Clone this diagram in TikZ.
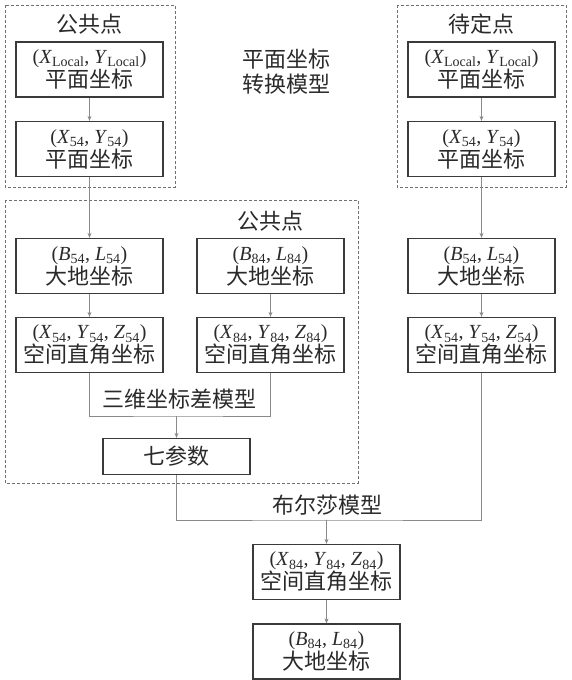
\documentclass[tikz,border=0pt]{standalone}
\usepackage{fontspec}
\setmainfont{Noto Sans CJK SC}
\newfontfamily\lat{Liberation Serif}
\usepackage{xcolor}
\usepackage{tikz}
\usetikzlibrary{arrows.meta}
\definecolor{boxline}{HTML}{3A3A3A}
\definecolor{linkgray}{HTML}{8A8A8A}
\definecolor{dashgray}{HTML}{707070}
\definecolor{txt}{HTML}{2A2A2A}
\newcommand\cv[2]{\textit{#1}\textsubscript{#2}}
\newcommand\tup[1]{{\lat\fontsize{20}{24}\selectfont #1}}

\begin{document}
\begin{tikzpicture}[x=1pt,y=-1pt,
    every node/.style={font=\fontsize{22}{24}\selectfont,text=txt},
    coord/.style={draw=boxline,line width=1.2pt,minimum width=147pt,
      minimum height=55pt,inner sep=0pt,align=center},
    link/.style={draw=linkgray,line width=1pt},
    flow/.style={link,-{Stealth[length=5pt,width=4pt]}},
    group/.style={draw=dashgray,line width=0.8pt,dash pattern=on 3pt off 2pt}]
    \useasboundingbox (0,0) rectangle (572,680);
    % dashed groups
    \draw[group] (5,5) rectangle (175,187);
    \draw[group] (397,5) rectangle (566,187);
    \draw[group] (5,200) rectangle (358,483);
    \node (comL) at (89.5,24) {公共点};
    \node (todo) at (481.5,24) {待定点};
    \node (comM) at (270.5,221) {公共点};
    \node[align=center] (plane) at (286,72) {平面坐标\\[1pt]转换模型};
    %
    \node[coord] (loc) at (89.5,69.5) {\tup{(\cv{X}{Local}, \cv{Y}{Local})}\\平面坐标};
    \node[coord] (xy) at (89.5,149) {\tup{(\cv{X}{54}, \cv{Y}{54})}\\平面坐标};
    \node[coord] (bl) at (89.5,266) {\tup{(\cv{B}{54}, \cv{L}{54})}\\大地坐标};
    \node[coord] (xyz) at (89.5,345) {\tup{(\cv{X}{54}, \cv{Y}{54}, \cv{Z}{54})}\\空间直角坐标};
    \node[coord] (bl84) at (270.5,266) {\tup{(\cv{B}{84}, \cv{L}{84})}\\大地坐标};
    \node[coord] (xyz84) at (270.5,345) {\tup{(\cv{X}{84}, \cv{Y}{84}, \cv{Z}{84})}\\空间直角坐标};
    \node[coord] (locR) at (481.5,69.5) {\tup{(\cv{X}{Local}, \cv{Y}{Local})}\\平面坐标};
    \node[coord] (xyR) at (481.5,149) {\tup{(\cv{X}{54}, \cv{Y}{54})}\\平面坐标};
    \node[coord] (blR) at (481.5,266) {\tup{(\cv{B}{54}, \cv{L}{54})}\\大地坐标};
    \node[coord] (xyzR) at (481.5,345) {\tup{(\cv{X}{54}, \cv{Y}{54}, \cv{Z}{54})}\\空间直角坐标};
    \node[coord,minimum height=36pt] (seven) at (176.5,456.5) {七参数};
    \node[coord] (xyzOut) at (326.5,572) {\tup{(\cv{X}{84}, \cv{Y}{84}, \cv{Z}{84})}\\空间直角坐标};
    \node[coord] (blOut) at (326.5,651.5) {\tup{(\cv{B}{84}, \cv{L}{84})}\\大地坐标};
    %
    \draw[flow] (loc) -- (xy);
    \draw[flow] (xy) -- (bl);
    \draw[flow] (bl) -- (xyz);
    \draw[flow] (bl84) -- (xyz84);
    \draw[flow] (locR) -- (xyR);
    \draw[flow] (xyR) -- (blR);
    \draw[flow] (blR) -- (xyzR);
    \coordinate (diff) at (176.5,416);
    \draw[link] (xyz.south) |- (diff) -| (xyz84.south);
    \draw[flow] (diff) -- (seven);
    \node (diffL) at (179,399) {三维坐标差模型};
    \coordinate (bursa) at (326.5,520);
    \draw[link] (seven.south) |- (bursa) -| (xyzR.south);
    \draw[flow] (bursa) -- (xyzOut);
    \node (bursaL) at (327,505) {布尔莎模型};
    \draw[flow] (xyzOut) -- (blOut);
\end{tikzpicture}
\end{document}
